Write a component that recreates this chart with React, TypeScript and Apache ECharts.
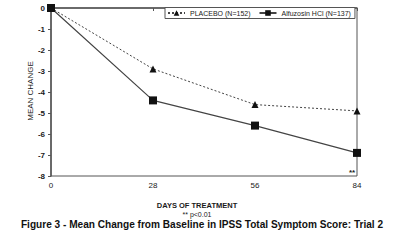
import React, { useEffect, useRef } from "react";
import * as echarts from "echarts";

const days = [0, 28, 56, 84];
const placebo = [0, -2.9, -4.6, -4.9];
const alfuzosin = [0, -4.4, -5.6, -6.9];
const seriesNames = ["PLACEBO (N=152)", "Alfuzosin HCl (N=137)"];

const FONT = "'Liberation Sans', Arial, sans-serif";
const INK = "#1a1a1a";

export default function App() {
  const ref = useRef<HTMLDivElement>(null);
  useEffect(() => {
    if (!ref.current) return;
    const chart = echarts.init(ref.current, null, { renderer: "svg" });
    chart.setOption({
      animation: false,
      backgroundColor: "#fff",
      grid: {
        left: 51,
        right: 43,
        top: 8,
        bottom: 75,
        show: true,
        borderColor: "#555",
        borderWidth: 1,
      },
      legend: {
        left: 165,
        top: 7.5,
        orient: "horizontal",
        itemWidth: 17,
        itemHeight: 7,
        itemGap: 8,
        padding: [2, 4, 2, 2],
        borderColor: "#555",
        borderWidth: 1,
        backgroundColor: "#fff",
        textStyle: { fontFamily: FONT, fontSize: 7, color: INK },
        data: seriesNames,
      },
      xAxis: {
        type: "value",
        min: 0,
        max: 84,
        interval: 28,
        axisLine: { show: true, lineStyle: { color: "#555", width: 1.5 } },
        axisTick: { show: true, length: 3, lineStyle: { color: "#555" } },
        splitLine: { show: false },
        axisLabel: { fontFamily: FONT, fontSize: 8, color: INK, margin: 5 },
      },
      yAxis: {
        type: "value",
        min: -8,
        max: 0,
        interval: 1,
        axisLine: { show: true, lineStyle: { color: "#555", width: 1.5 } },
        axisTick: { show: true, length: 3, lineStyle: { color: "#555" } },
        splitLine: { show: false },
        axisLabel: { fontFamily: FONT, fontSize: 8, color: INK, margin: 6, fontWeight: "bold" },
      },
      series: [
        {
          name: seriesNames[0],
          type: "line",
          data: days.map((d, i) => [d, placebo[i]]),
          symbol: "triangle",
          symbolSize: 7,
          itemStyle: { color: "#111" },
          lineStyle: { color: "#444", width: 1, type: [2, 2] },
          z: 3,
        },
        {
          name: seriesNames[1],
          type: "line",
          data: days.map((d, i) => [d, alfuzosin[i]]),
          symbol: "rect",
          symbolSize: 8,
          itemStyle: { color: "#111" },
          lineStyle: { color: "#444", width: 1.2 },
          z: 4,
        },
      ],
      graphic: [
        {
          type: "text",
          x: 30,
          y: 91,
          rotation: Math.PI / 2,
          style: {
            text: "MEAN CHANGE",
            font: `8px ${FONT}`,
            fill: INK,
            align: "center",
            verticalAlign: "middle",
          },
        },
        {
          type: "text",
          x: 352,
          y: 172,
          style: { text: "**", font: `bold 8px ${FONT}`, fill: INK, align: "center", verticalAlign: "middle" },
        },
        {
          type: "text",
          x: 197,
          y: 205,
          style: {
            text: "DAYS OF TREATMENT",
            font: `bold 7.5px ${FONT}`,
            fill: INK,
            align: "center",
            verticalAlign: "middle",
          },
        },
        {
          type: "text",
          x: 197,
          y: 214,
          style: { text: "** p<0.01", font: `7px ${FONT}`, fill: INK, align: "center", verticalAlign: "middle" },
        },
        {
          type: "text",
          x: 202,
          y: 224,
          style: {
            text: "Figure 3 - Mean Change from Baseline in IPSS Total Symptom Score: Trial 2",
            font: `bold 10.1px ${FONT}`,
            fill: "#111",
            align: "center",
            verticalAlign: "middle",
          },
        },
      ],
    });
    return () => chart.dispose();
  }, []);
  return (
    <div
      ref={ref}
      style={{ position: "absolute", left: 0, top: 0, width: 400, height: 251 }}
    />
  );
}
